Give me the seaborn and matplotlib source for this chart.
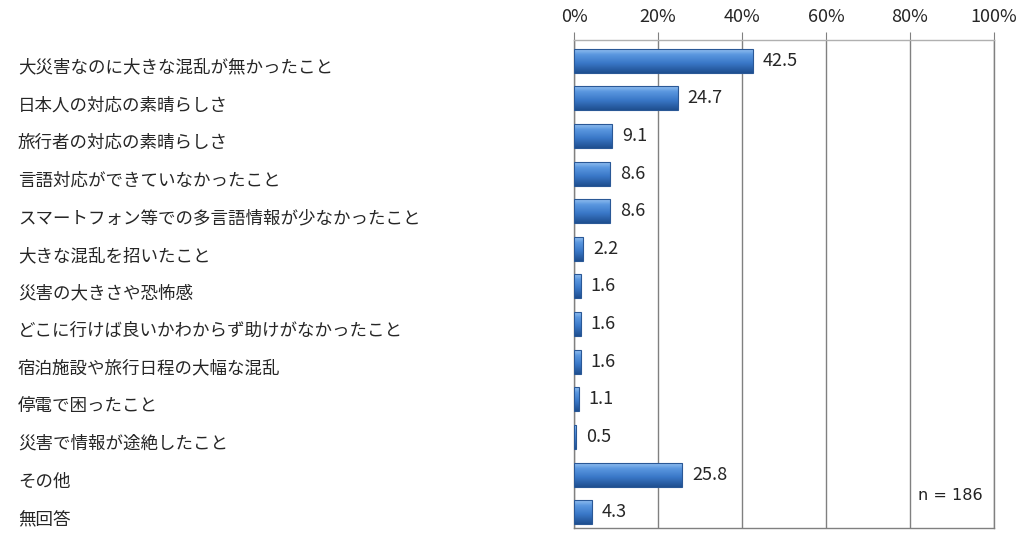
import numpy as np
import pandas as pd
import seaborn as sns
import matplotlib.pyplot as plt
from matplotlib.colors import LinearSegmentedColormap
from matplotlib.ticker import PercentFormatter
from matplotlib.transforms import ScaledTranslation

items = [
    "大災害なのに大きな混乱が無かったこと",
    "日本人の対応の素晴らしさ",
    "旅行者の対応の素晴らしさ",
    "言語対応ができていなかったこと",
    "スマートフォン等での多言語情報が少なかったこと",
    "大きな混乱を招いたこと",
    "災害の大きさや恐怖感",
    "どこに行けば良いかわからず助けがなかったこと",
    "宿泊施設や旅行日程の大幅な混乱",
    "停電で困ったこと",
    "災害で情報が途絶したこと",
    "その他",
    "無回答",
]
values = [42.5, 24.7, 9.1, 8.6, 8.6, 2.2, 1.6, 1.6, 1.6, 1.1, 0.5, 25.8, 4.3]
n_label = "n = 186"

df = pd.DataFrame({"item": items, "pct": values})

sns.set_style("white")
plt.rcParams["font.family"] = ["Noto Sans CJK JP", "DejaVu Sans"]

fig = plt.figure(figsize=(10.24, 5.41), dpi=100)
ax = fig.add_axes([574 / 1024, 1 - 528 / 541, 420 / 1024, 488 / 541])

sns.barplot(data=df, x="pct", y="item", orient="h", color="#3a78c4",
            edgecolor="#2a5896", linewidth=0.8, width=0.64, saturation=1,
            ax=ax, zorder=3)

# bevel-ish vertical gradient on each bar
shade = LinearSegmentedColormap.from_list(
    "bar", [(0, "#9cc6f2"), (0.25, "#5b98e0"), (0.6, "#3a78c8"), (1, "#1f4f90")])
grad = np.linspace(0, 1, 64).reshape(-1, 1)
for p in ax.patches:
    bb = p.get_bbox()
    im = ax.imshow(grad, cmap=shade, aspect="auto", origin="upper",
                   extent=[bb.x0, bb.x1, bb.y1, bb.y0], zorder=3)
    im.set_clip_path(p)
    p.set_facecolor("none")
    p.set_zorder(4)

ax.set_xlim(0, 100)
ax.set_ylim(len(items) - 1 + 0.42, -0.55)
ax.set_xticks(range(0, 101, 20))
ax.xaxis.set_major_formatter(PercentFormatter(decimals=0))
ax.xaxis.tick_top()
ax.tick_params(axis="x", direction="out", length=6, color="#808080",
               labelsize=13, pad=4)
ax.grid(axis="x", color="#808080", linewidth=1.0, zorder=0)
for s in ax.spines.values():
    s.set_color("#808080")
    s.set_linewidth(1.0)
ax.spines["top"].set_color("#b0b0b0")

ax.set_xlabel("")
ax.set_ylabel("")
ax.tick_params(axis="y", length=0, labelsize=12.6, pad=556 * 0.72)
shift = ScaledTranslation(0, -5 / 100, fig.dpi_scale_trans)
for lab in ax.get_yticklabels():
    lab.set_horizontalalignment("left")
    lab.set_transform(lab.get_transform() + shift)

ax.bar_label(ax.containers[0], fmt="%.1f", padding=7, fontsize=13)

ax.text(0.974, 0.066, n_label, transform=ax.transAxes, ha="right",
        va="center", fontsize=11.5, family="DejaVu Sans", color="#222222")

fig.savefig("out.png", dpi=100)
